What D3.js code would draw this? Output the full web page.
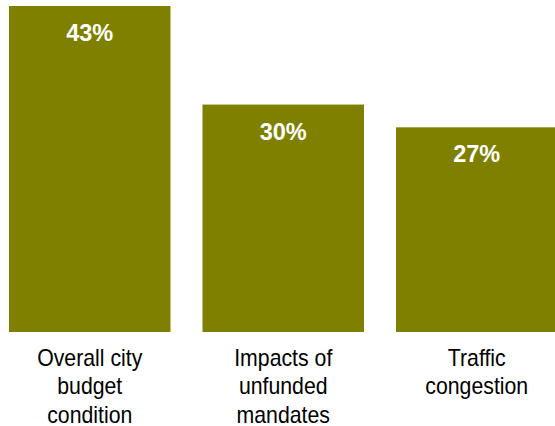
<!DOCTYPE html>
<html><head><meta charset="utf-8">
<script src="https://cdn.jsdelivr.net/npm/d3@7"></script>
<style>html,body{margin:0;padding:0;background:#fff;}svg{display:block;}</style>
</head><body>
<svg id="c" width="555" height="426"></svg>
<script>
const categories = ["Overall city budget condition", "Impacts of unfunded mandates", "Traffic congestion"];
const labelLines = [["Overall city", "budget", "condition"], ["Impacts of", "unfunded", "mandates"], ["Traffic", "congestion"]];
const values = [43, 30, 27];
const valueLabels = ["43%", "30%", "27%"];

const svg = d3.select("#c");
const x = d3.scaleBand().domain(categories).range([9, 557.5]).paddingInner(32/193.5).paddingOuter(0);
const y = d3.scaleLinear().domain([0, 43]).range([332, 6]);
const cx = d => x(d) + x.bandwidth()/2;

svg.selectAll("rect.bar").data(values).join("rect")
  .attr("class","bar")
  .attr("x",(d,i)=>x(categories[i]))
  .attr("y",d=>y(d))
  .attr("width",x.bandwidth())
  .attr("height",d=>y(0)-y(d))
  .attr("fill","#808000");

svg.selectAll("text.val").data(values).join("text")
  .attr("class","val")
  .attr("x",(d,i)=>cx(categories[i]))
  .attr("y",d=>y(d)+35)
  .attr("text-anchor","middle")
  .attr("fill","#fff")
  .attr("font-family","'Liberation Sans', Arial, sans-serif")
  .attr("font-weight","bold")
  .attr("font-size","23.5px")
  .text((d,i)=>valueLabels[i]);

const g = svg.selectAll("text.cat").data(categories).join("text")
  .attr("class","cat")
  .attr("transform",d=>`translate(${cx(d)},365.5) scale(0.925,1)`)
  .attr("text-anchor","middle")
  .attr("fill","#000")
  .attr("font-family","'Liberation Sans', Arial, sans-serif")
  .attr("font-size","23px");
g.each(function(d,i){
  d3.select(this).selectAll("tspan").data(labelLines[i]).join("tspan")
    .attr("x",0)
    .attr("dy",(t,j)=>j===0?0:28.8)
    .text(t=>t);
});
</script>
</body></html>
